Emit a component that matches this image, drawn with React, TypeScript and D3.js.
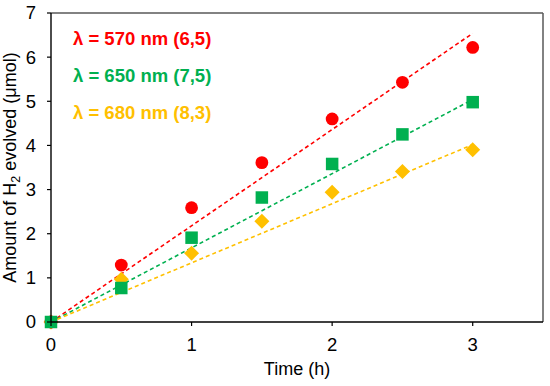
import React from "react";
import * as d3 from "d3";

const times = [0, 0.5, 1, 1.5, 2, 2.5, 3];
const red570 = [0, 1.29, 2.59, 3.61, 4.6, 5.43, 6.22];
const green650 = [0, 0.77, 1.91, 2.82, 3.58, 4.25, 4.98];
const orange680 = [0, 0.97, 1.56, 2.28, 2.94, 3.41, 3.9];
const slopes = [2.18, 1.68, 1.34];
const seriesLabels = ["λ = 570 nm (6,5)", "λ = 650 nm (7,5)", "λ = 680 nm (8,3)"];
const colors = ["#FF0000", "#00B050", "#FFC000"];
const xTicks = [0, 1, 2, 3];
const yTicks = [0, 1, 2, 3, 4, 5, 6, 7];

const W = 550;
const H = 386;
const L = 51, R = 543, T = 13, B = 322;
const FONT = "Arial, 'Liberation Sans', sans-serif";

export default function App() {
  const x = d3.scaleLinear().domain([0, 3.5]).range([L, R]);
  const y = d3.scaleLinear().domain([0, 7]).range([B, T]);
  const line = d3.line<[number, number]>().x((d) => x(d[0])).y((d) => y(d[1]));
  const circle = d3.symbol().type(d3.symbolCircle).size(Math.PI * 6.4 * 6.4)();
  const square = d3.symbol().type(d3.symbolSquare).size(12.5 * 12.5)();
  const diamond = "M0,-7.5L7.5,0L0,7.5L-7.5,0Z";

  return (
    <svg width={W} height={H} style={{ position: "absolute", left: 0, top: 0 }} fontFamily={FONT}>
      <rect x={0} y={0} width={W} height={H} fill="white" />
      <line x1={L} x2={R} y1={T} y2={T} stroke="#595959" strokeWidth={1.5} />
      <line x1={R} x2={R} y1={T} y2={B} stroke="#595959" strokeWidth={1.5} />
      {slopes.map((s, i) => (
        <path
          key={"t" + i}
          d={line([[0, 0], [3, s * 3]]) || ""}
          fill="none"
          stroke={colors[i]}
          strokeWidth={1.6}
          strokeDasharray="4,3"
        />
      ))}
      {times.map((t, j) => (
        <path key={"o" + j} d={diamond} transform={`translate(${x(t)},${y(orange680[j])})`} fill={colors[2]} />
      ))}
      {times.map((t, j) => (
        <path key={"r" + j} d={circle || ""} transform={`translate(${x(t)},${y(red570[j])})`} fill={colors[0]} />
      ))}
      {times.map((t, j) => (
        <path key={"g" + j} d={square || ""} transform={`translate(${x(t)},${y(green650[j])})`} fill={colors[1]} />
      ))}
      <line x1={L} x2={L} y1={T} y2={B} stroke="#000" strokeWidth={1.4} />
      <line x1={L} x2={R} y1={B} y2={B} stroke="#000" strokeWidth={1.4} />
      {yTicks.map((v) => (
        <g key={"y" + v}>
          <line x1={L - 4} x2={L} y1={y(v)} y2={y(v)} stroke="#000" strokeWidth={1.2} />
          <text x={36} y={y(v)} dy="0.35em" textAnchor="end" fontSize={18.5} fill="#000">
            {v}
          </text>
        </g>
      ))}
      {xTicks.map((v) => (
        <g key={"x" + v}>
          <line x1={x(v)} x2={x(v)} y1={B} y2={B + 4} stroke="#000" strokeWidth={1.2} />
          <text x={x(v)} y={351} textAnchor="middle" fontSize={18.5} fill="#000">
            {v}
          </text>
        </g>
      ))}
      <text x={(L + R) / 2} y={375} textAnchor="middle" fontSize={18} fill="#000">
        Time (h)
      </text>
      <text
        transform={`translate(16,${(T + B) / 2}) rotate(-90)`}
        textAnchor="middle"
        fontSize={18}
        fill="#000"
      >
        Amount of H<tspan fontSize={12.5} dy={4}>2</tspan>
        <tspan dy={-4}> evolved (μmol)</tspan>
      </text>
      {seriesLabels.map((s, i) => (
        <text key={"l" + i} x={73} y={45 + i * 37} fontSize={18.5} fontWeight="bold" fill={colors[i]}>
          {s}
        </text>
      ))}
    </svg>
  );
}
